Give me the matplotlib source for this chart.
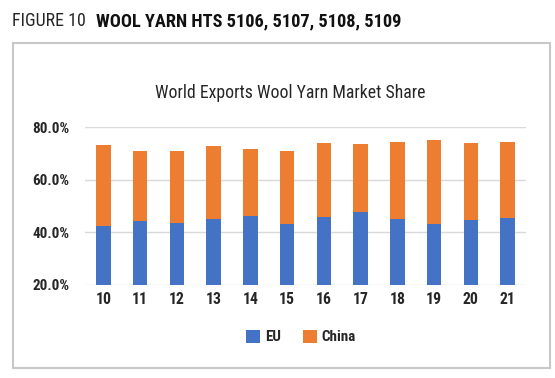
import matplotlib
matplotlib.use("Agg")
import matplotlib.pyplot as plt
from matplotlib.patches import Rectangle
from matplotlib import font_manager
from matplotlib.font_manager import FontProperties
from matplotlib.textpath import TextToPath

years = ["10", "11", "12", "13", "14", "15", "16", "17", "18", "19", "20", "21"]
eu = [42.6, 44.2, 43.7, 45.1, 46.1, 43.1, 45.8, 47.6, 45.3, 43.2, 44.9, 45.4]
total = [73.1, 71.0, 71.0, 72.7, 71.6, 71.1, 73.9, 73.5, 74.4, 75.3, 73.9, 74.5]
china = [round(t - e, 1) for t, e in zip(total, eu)]
yticks = [20, 40, 60, 80]
ylabels = [f"{v:.1f}%" for v in yticks]
series = ["EU", "China"]
title = "World Exports Wool Yarn Market Share"
fig_label = "FIGURE 10"
fig_title = "WOOL YARN HTS 5106, 5107, 5108, 5109"

allchars = set(title + fig_label + fig_title + "".join(ylabels) + "".join(series)) - {" "}
allowed = ["DejaVu Sans", "Liberation Sans", "Liberation Sans Narrow", "Noto Sans", "Roboto",
           "Roboto Condensed", "Open Sans", "Open Sans Condensed", "Lato", "Inter",
           "Noto Sans Display", "DejaVu Sans Condensed"]

ttp = TextToPath()
def covers(fname):
    try:
        cm = font_manager.get_font(fname).get_charmap()
        return all(ord(c) in cm for c in allchars)
    except Exception:
        return False

def wid(fname, s):
    try:
        p = FontProperties(fname=fname, size=20)
        return ttp.get_text_width_height_descent(s, p, ismath=False)[0]
    except Exception:
        return 1e9

def wnum(w):
    if isinstance(w, (int, float)):
        return w
    return {"normal": 400, "regular": 400, "book": 400, "medium": 500, "bold": 700,
            "semibold": 600, "demibold": 600, "light": 300}.get(str(w).lower(), 400)

faces = [f for f in font_manager.fontManager.ttflist
         if f.style == "normal" and f.name in allowed
         and f.fname.lower().endswith((".ttf", ".otf")) and covers(f.fname)]
regular = [f for f in faces if 380 <= wnum(f.weight) <= 420]
best = min(regular, key=lambda f: wid(f.fname, title)) if regular else None
if best is not None:
    reg_prop = FontProperties(fname=best.fname)
    bolds = [f for f in faces if f.name == best.name and f.stretch == best.stretch
             and wnum(f.weight) >= 600]
    if bolds:
        bf = min(bolds, key=lambda f: abs(wnum(f.weight) - 700))
        bold_prop = FontProperties(fname=bf.fname)
    else:
        bold_prop = FontProperties(family=[best.name, "DejaVu Sans"], stretch=best.stretch,
                                   weight="bold")
else:
    reg_prop = FontProperties(family=["Roboto", "DejaVu Sans"])
    bold_prop = FontProperties(family=["Roboto", "DejaVu Sans"], weight="bold")

W, H = 555, 378
fig = plt.figure(figsize=(W / 100, H / 100), dpi=100)
txtc = "#262626"

def fit(texts, target_px, maxsize=None):
    fig.canvas.draw()
    r = fig.canvas.get_renderer()
    w = texts[0].get_window_extent(r).width
    s = texts[0].get_fontsize() * target_px / max(w, 1)
    if maxsize:
        s = min(s, maxsize)
    for t in texts:
        t.set_fontsize(s)

fig.patches.append(Rectangle((13 / W, 1 - 368 / H), (550 - 13) / W, (368 - 42.5) / H,
                             transform=fig.transFigure, fill=False,
                             edgecolor="#c8c8c8", linewidth=1.5))

t1 = fig.text(12.5 / W, 1 - 21 / H, fig_label, fontproperties=reg_prop.copy(), fontsize=14,
              color=txtc, va="center", ha="left")
fit([t1], 74, 15)
t2 = fig.text(96 / W, 1 - 21 / H, fig_title, fontproperties=bold_prop.copy(), fontsize=14,
              color="#111111", va="center", ha="left")
fit([t2], 306, 15)

tt = fig.text(290 / W, 1 - 93 / H, title, fontproperties=reg_prop.copy(), fontsize=14,
              color=txtc, va="center", ha="center")
fit([tt], 272, 15)

ax = fig.add_axes([85 / W, 1 - 285 / H, (526 - 85) / W, (285 - 127.3) / H])
x = list(range(len(years)))
b1 = ax.bar(x, eu, width=0.4, color="#4472C4", label=series[0], zorder=3)
b2 = ax.bar(x, china, width=0.4, bottom=eu, color="#ED7D31", label=series[1], zorder=3)
ax.set_xlim(-0.5, len(years) - 0.5)
ax.set_ylim(20, 80)
ax.set_yticks(yticks)
ax.set_yticklabels(ylabels, fontproperties=bold_prop.copy())
ax.set_xticks(x)
ax.set_xticklabels(years, fontproperties=bold_prop.copy())
ax.grid(axis="y", color="#d9d9d9", linewidth=1, zorder=0)
for s in ax.spines.values():
    s.set_visible(False)
ax.tick_params(length=0, colors=txtc)
ax.tick_params(axis="y", pad=11.5)
ax.tick_params(axis="x", pad=5)
fit(ax.get_yticklabels(), 37, 13)
fit(ax.get_xticklabels(), 16, 13)

probe = fig.text(0, 0, series[1], fontproperties=bold_prop.copy(), fontsize=10)
fit([probe], 34, 13)
lsize = probe.get_fontsize()
probe.remove()
lp = bold_prop.copy()
lp.set_size(lsize)
leg = fig.legend(handles=[b1, b2], labels=series, loc="center",
                 bbox_to_anchor=(301 / W, 1 - 337 / H), ncol=2, frameon=False,
                 prop=lp, handlelength=0.95, handleheight=0.95,
                 columnspacing=1.5, handletextpad=0.3)
for tx in leg.get_texts():
    tx.set_color(txtc)

fig.savefig("out.png", dpi=100)
